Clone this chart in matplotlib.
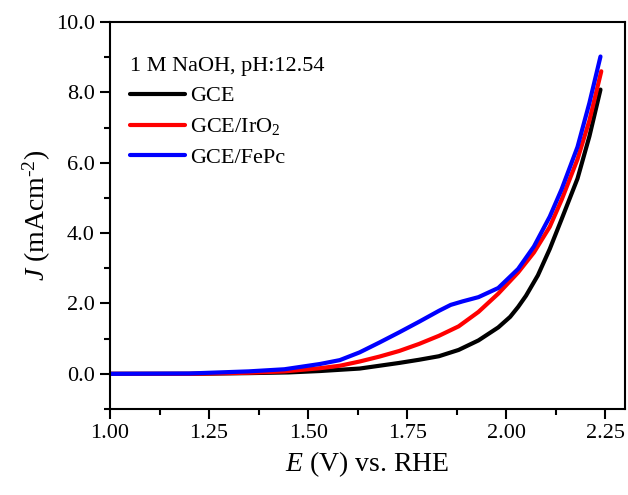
import matplotlib
matplotlib.use("Agg")
import matplotlib.pyplot as plt
from matplotlib.ticker import MultipleLocator, FormatStrFormatter

plt.rcParams["font.family"] = ["Liberation Serif", "DejaVu Serif"]
plt.rcParams["mathtext.fontset"] = "custom"
plt.rcParams["mathtext.rm"] = "Liberation Serif"
plt.rcParams["mathtext.it"] = "Liberation Serif:italic"

# LSV curves, potential (V vs. RHE) and current density (mA cm^-2)
e_gce = [1.00, 1.20, 1.35, 1.45, 1.53, 1.63, 1.73, 1.78, 1.83, 1.88, 1.93,
         1.98, 2.01, 2.03, 2.05, 2.08, 2.11, 2.14, 2.18, 2.21, 2.238]
j_gce = [0.00, 0.00, 0.02, 0.04, 0.08, 0.15, 0.31, 0.40, 0.50, 0.68, 0.95,
         1.32, 1.62, 1.90, 2.22, 2.80, 3.55, 4.40, 5.55, 6.75, 8.08]

e_iro2 = [1.00, 1.20, 1.35, 1.44, 1.53, 1.58, 1.63, 1.68, 1.73, 1.78, 1.83,
          1.88, 1.93, 1.98, 2.03, 2.07, 2.11, 2.14, 2.18, 2.21, 2.24]
j_iro2 = [0.00, 0.00, 0.03, 0.07, 0.16, 0.23, 0.35, 0.49, 0.65, 0.85, 1.08,
          1.35, 1.76, 2.28, 2.88, 3.45, 4.18, 4.95, 6.10, 7.20, 8.60]

e_fepc = [1.00, 1.20, 1.35, 1.44, 1.53, 1.58, 1.63, 1.68, 1.73, 1.78, 1.83,
          1.86, 1.89, 1.93, 1.98, 2.03, 2.07, 2.11, 2.14, 2.18, 2.21, 2.238]
j_fepc = [0.00, 0.01, 0.07, 0.13, 0.28, 0.39, 0.61, 0.89, 1.18, 1.48, 1.79,
          1.96, 2.06, 2.18, 2.44, 2.98, 3.62, 4.47, 5.25, 6.45, 7.70, 9.02]

fig = plt.figure(figsize=(6.28, 4.95), dpi=100)
ax = fig.add_axes([0.1752, 0.1737, 0.8201, 0.7818])

ax.plot(e_gce, j_gce, color="black", lw=3, label="GCE",
        solid_capstyle="round", solid_joinstyle="round")
ax.plot(e_iro2, j_iro2, color="red", lw=3, label="GCE/IrO$_2$",
        solid_capstyle="round", solid_joinstyle="round")
ax.plot(e_fepc, j_fepc, color="blue", lw=3, label="GCE/FePc",
        solid_capstyle="round", solid_joinstyle="round")

ax.set_xlim(1.0, 2.30)
ax.set_ylim(-1.0, 10.0)
ax.xaxis.set_major_locator(MultipleLocator(0.25))
ax.xaxis.set_minor_locator(MultipleLocator(0.125))
ax.yaxis.set_major_locator(MultipleLocator(2.0))
ax.yaxis.set_minor_locator(MultipleLocator(1.0))
ax.xaxis.set_major_formatter(FormatStrFormatter("%.2f"))
ax.yaxis.set_major_formatter(FormatStrFormatter("%.1f"))
ax.set_yticks([0, 2, 4, 6, 8, 10])

ax.tick_params(which="both", direction="out", width=1.5, labelsize=16, top=False, right=False)
ax.tick_params(which="major", length=7, pad=4)
ax.tick_params(which="minor", length=4)
for s in ax.spines.values():
    s.set_linewidth(1.5)

ax.set_xlabel("$E$ (V) vs. RHE", fontsize=20, labelpad=4)
ax.set_ylabel("$J$ (mAcm$^{\\text{-2}}$)", fontsize=20, labelpad=2)

leg = ax.legend(title="1 M NaOH, pH:12.54", loc="upper left",
                bbox_to_anchor=(0.008, 0.95), frameon=False, fontsize=16,
                title_fontsize=16, handlelength=2.5, handletextpad=0.2,
                labelspacing=0.45, borderaxespad=0.3, alignment="left")

fig.savefig("out.png", dpi=100)
